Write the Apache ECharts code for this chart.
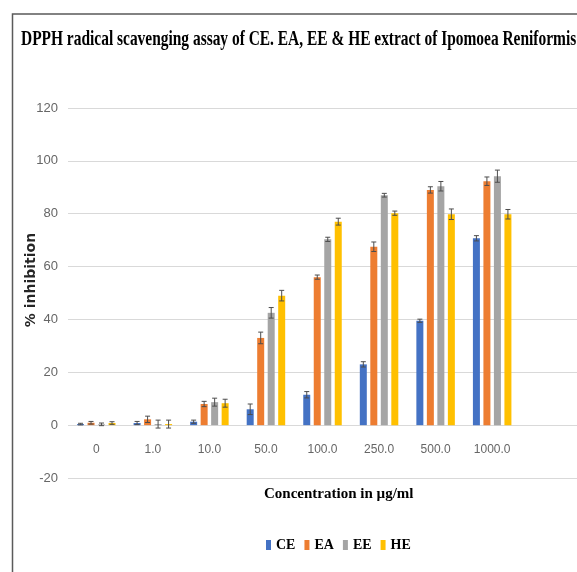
<!DOCTYPE html>
<html>
<head>
<meta charset="utf-8">
<script src="https://cdn.jsdelivr.net/npm/echarts@6/dist/echarts.min.js"></script>
<style>
  html, body { margin: 0; padding: 0; background: #fff; }
  #chart { width: 577px; height: 572px; }
</style>
</head>
<body>
<div id="chart"></div>
<script>
// Concentrations (µg/ml) on the category axis
const categories = ['0', '1.0', '10.0', '50.0', '100.0', '250.0', '500.0', '1000.0'];

// % inhibition per extract
const ceValues = [0.4, 0.8, 1.3, 6.0, 11.5, 23.0, 39.5, 70.7];
const eaValues = [0.9, 2.2, 8.0, 33.0, 56.0, 67.5, 89.0, 92.3];
const eeValues = [0.3, 0.4, 8.7, 42.5, 70.3, 87.0, 90.4, 94.2];
const heValues = [0.8, 0.4, 8.3, 49.0, 77.0, 80.2, 79.8, 79.8];

// Standard deviation per point
const ceErrors = [0.3, 0.6, 0.6, 2.0, 1.2, 1.0, 0.6, 1.0];
const eaErrors = [0.5, 1.2, 1.0, 2.2, 0.8, 1.8, 1.2, 1.6];
const eeErrors = [0.5, 1.5, 1.5, 2.0, 0.8, 0.7, 1.8, 2.3];
const heErrors = [0.5, 1.5, 1.5, 2.0, 1.3, 0.8, 2.0, 1.8];

const yTicks = { min: -20, max: 120, interval: 20 };

const seriesNames = ['CE', 'EA', 'EE', 'HE'];
const seriesColors = ['#4472C4', '#ED7D31', '#A5A5A5', '#FFC000'];
const seriesValues = [ceValues, eaValues, eeValues, heValues];
const seriesErrors = [ceErrors, eaErrors, eeErrors, heErrors];

const BAR_W = 7;
const BAR_STEP = 10.5;

// plot area; the category axis sits on the zero line
const GRID = { left: 68, top: 108, width: 517.5, height: 370 };
const zeroY = GRID.top + GRID.height * (yTicks.max / (yTicks.max - yTicks.min));
const xAxisOffset = zeroY - (GRID.top + GRID.height);

const chart = echarts.init(document.getElementById('chart'), null, { renderer: 'canvas' });

const barSeries = seriesNames.map((name, i) => ({
  name: name,
  type: 'bar',
  data: seriesValues[i],
  barWidth: BAR_W,
  barGap: '50%',
  itemStyle: { color: seriesColors[i] },
  z: 2
}));

const errorSeries = seriesNames.map((name, i) => ({
  name: name,
  type: 'custom',
  data: seriesValues[i].map((v, k) => [k, v, seriesErrors[i][k]]),
  z: 3,
  silent: true,
  renderItem: function (params, api) {
    const k = api.value(0);
    const v = api.value(1);
    const e = api.value(2);
    const offset = (i - 1.5) * BAR_STEP;
    const top = api.coord([k, v + e]);
    const bot = api.coord([k, v - e]);
    const x = top[0] + offset;
    const cap = 2.5;
    const style = { stroke: '#4d4d4d', lineWidth: 1 };
    return {
      type: 'group',
      children: [
        { type: 'line', shape: { x1: x, y1: top[1], x2: x, y2: bot[1] }, style: style },
        { type: 'line', shape: { x1: x - cap, y1: top[1], x2: x + cap, y2: top[1] }, style: style },
        { type: 'line', shape: { x1: x - cap, y1: bot[1], x2: x + cap, y2: bot[1] }, style: style }
      ]
    };
  }
}));

chart.setOption({
  animation: false,
  backgroundColor: '#ffffff',
  grid: { left: GRID.left, top: GRID.top, width: GRID.width, height: GRID.height, containLabel: false },
  legend: {
    data: seriesNames,
    left: 261,
    top: 533,
    itemWidth: 5,
    itemHeight: 10,
    itemGap: 9,
    icon: 'rect',
    textStyle: { fontFamily: 'Liberation Serif', fontWeight: 'bold', fontSize: 14, color: '#000' }
  },
  xAxis: {
    type: 'category',
    data: categories,
    max: categories.length,
    offset: xAxisOffset,
    axisLine: { show: false, onZero: false },
    axisTick: { show: false },
    axisLabel: {
      margin: 19,
      interval: 0,
      fontFamily: 'Liberation Sans',
      fontSize: 12,
      color: '#666',
      formatter: v => (categories.indexOf(v) >= 0 ? v : '')
    },
    splitLine: { show: false }
  },
  yAxis: {
    type: 'value',
    min: yTicks.min,
    max: yTicks.max,
    interval: yTicks.interval,
    axisLine: { show: false },
    axisTick: { show: false },
    axisLabel: { margin: 10, fontFamily: 'Liberation Sans', fontSize: 13, color: '#666' },
    splitLine: { lineStyle: { color: '#d9d9d9', width: 1 } }
  },
  graphic: [
    {
      type: 'rect',
      shape: { x: 12.5, y: 14, width: 600, height: 600 },
      style: { fill: 'none', stroke: '#5a5a5a', lineWidth: 1.5 },
      silent: true,
      z: 10
    },
    {
      // condensed bold serif heading
      type: 'text',
      x: 21,
      y: 39.5,
      scaleX: 0.735,
      style: {
        text: 'DPPH radical scavenging assay of CE. EA, EE & HE extract of Ipomoea Reniformis',
        font: 'bold 21px "Liberation Serif"',
        fill: '#000',
        verticalAlign: 'middle'
      }
    },
    {
      type: 'text',
      x: 31,
      y: 280,
      rotation: Math.PI / 2,
      style: {
        text: '% inhibition',
        font: 'bold 14px "DejaVu Sans"',
        fill: '#262626',
        align: 'center',
        verticalAlign: 'middle'
      }
    },
    {
      type: 'text',
      left: 264,
      top: 487,
      style: {
        text: 'Concentration in µg/ml',
        font: 'bold 15px "Liberation Serif"',
        fill: '#000'
      }
    }
  ],
  series: barSeries.concat(errorSeries)
});
</script>
</body>
</html>
